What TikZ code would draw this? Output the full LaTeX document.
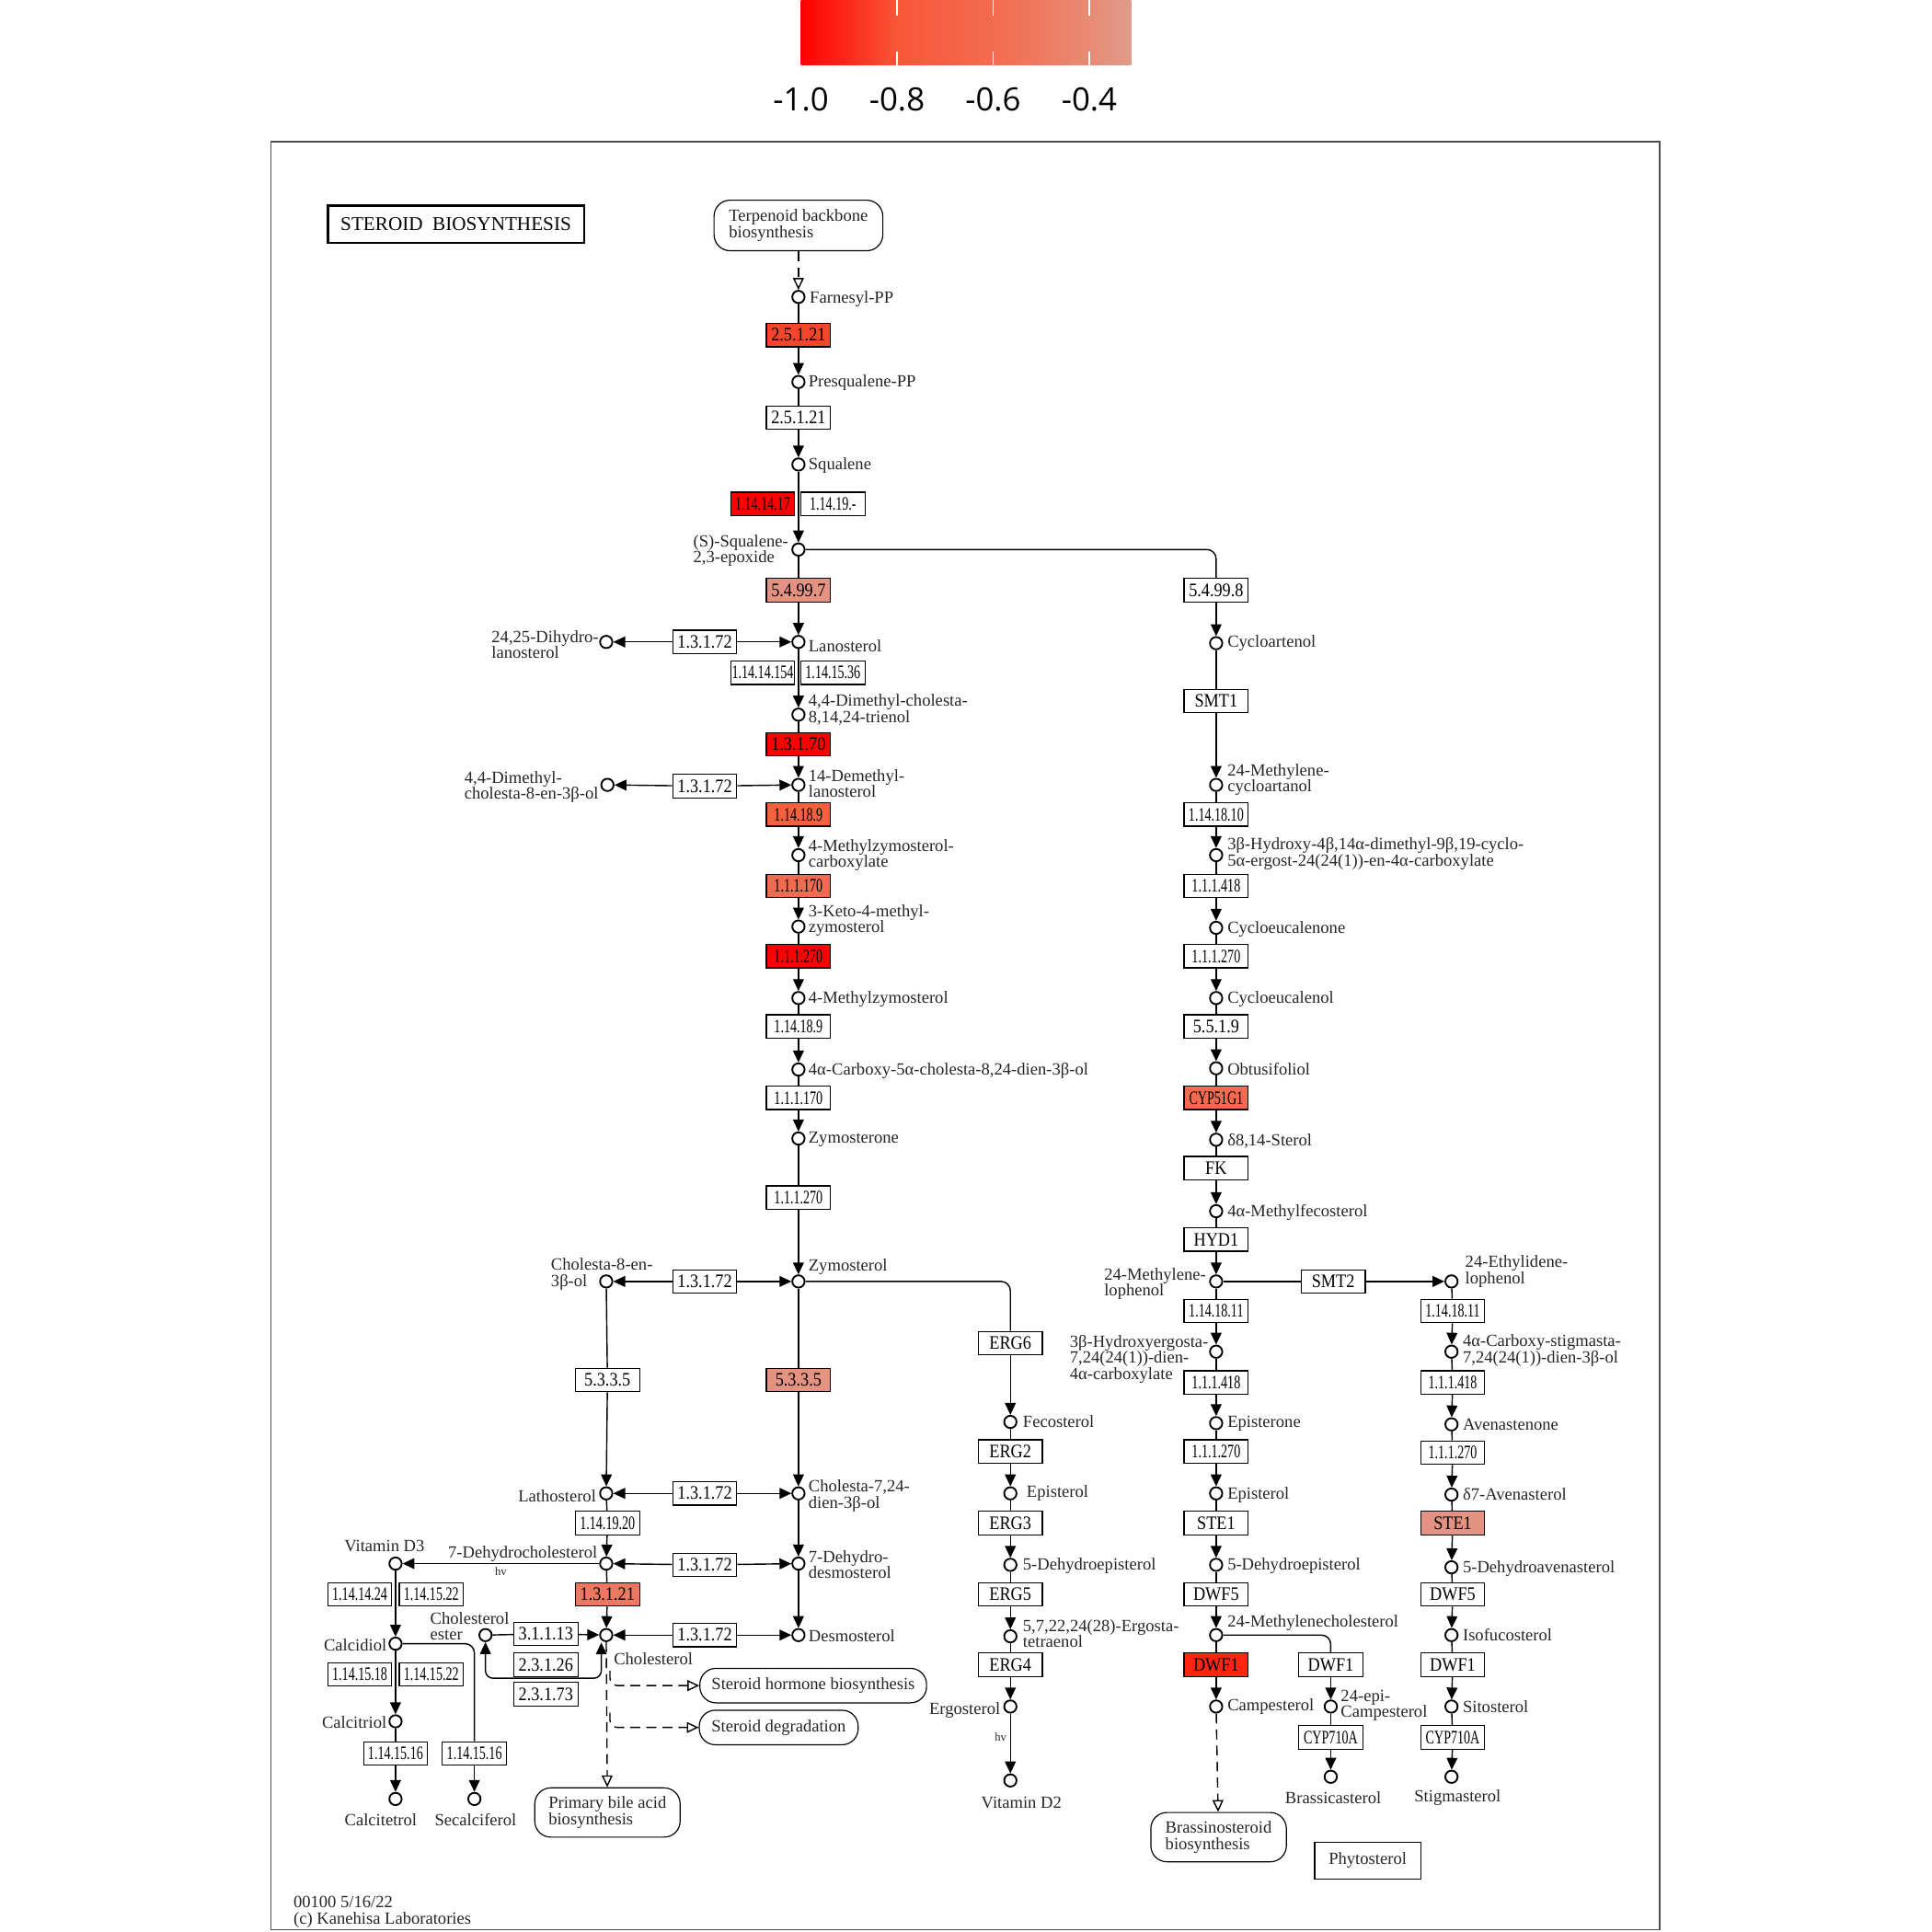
\documentclass[tikz,border=0pt]{standalone}
\usepackage{fontspec}
\setmainfont{Liberation Serif}
\newfontfamily\keyfam{Open Sans}
\newfontfamily\ecfam[FakeStretch=0.88]{Liberation Serif}
\newfontfamily\ecnarrowfam[FakeStretch=0.68]{Liberation Serif}
\usetikzlibrary{arrows.meta,positioning,calc}

\definecolor{keggink}{HTML}{262626}
\definecolor{keyA}{HTML}{FF0000}
\definecolor{keyB}{HTML}{F95638}
\definecolor{keyC}{HTML}{F26C4F}
\definecolor{keyD}{HTML}{E98A74}
\definecolor{keyE}{HTML}{DF9C8A}
\definecolor{fcA}{HTML}{FF0000}
\definecolor{fcB}{HTML}{FF2510}
\definecolor{fcC}{HTML}{F5452B}
\definecolor{fcD}{HTML}{F5603F}
\definecolor{fcE}{HTML}{F16B50}
\definecolor{fcF}{HTML}{EB7861}
\definecolor{fcG}{HTML}{E49282}

\pgfdeclarehorizontalshading{keybar}{100bp}{color(0bp)=(keyA); color(25bp)=(keyA); color(39.55bp)=(keyB); color(54.1bp)=(keyC); color(68.66bp)=(keyD); color(75bp)=(keyE); color(100bp)=(keyE)}

\newcommand\lblfont{\fontsize{7.9pt}{7.4pt}\selectfont}
\newcommand\ecfont{\ecfam\fontsize{8.8pt}{8.8pt}\selectfont}
\newcommand\ecnarrow{\ecnarrowfam\fontsize{8.8pt}{8.8pt}\selectfont}
\newcommand\keyfont{\keyfam\fontsize{14.8pt}{16pt}\selectfont}
\newcommand\hvfont{\fontsize{5.4pt}{6pt}\selectfont}

\tikzset{
  cpd/.style={circle, draw=black, line width=0.8pt, fill=white, minimum size=0.2cm, inner sep=0pt},
  lbl/.style={font=\lblfont, text=keggink, inner sep=0.5pt, align=left},
  ec/.style={rectangle, draw=black, line width=0.5pt, fill=white, minimum width=1.04cm, minimum height=0.38cm, inner sep=0pt, font=\ecfont},
  ecn/.style={ec, font=\ecnarrow},
  mapbox/.style={rectangle, rounded corners=0.26cm, draw=black, line width=0.5pt, fill=white, inner sep=0pt, align=left, font=\lblfont, text=keggink},
  plainbox/.style={rectangle, draw=black, line width=0.5pt, inner sep=0pt, font=\lblfont, text=keggink},
  titlebox/.style={rectangle, draw=black, line width=1.1pt, minimum width=4.16cm, minimum height=0.6cm, inner sep=0pt, font=\fontsize{9pt}{10pt}\selectfont},
  keylbl/.style={font=\keyfont, text=black, inner sep=0pt},
  hvlbl/.style={font=\hvfont, text=keggink, inner sep=1.5pt},
  link/.style={line width=0.6pt},
  flow/.style={link, -{Triangle[length=5.5pt,width=5pt]}},
  dflow/.style={link, dash pattern=on 0.16cm off 0.1cm, -{Triangle[open,length=5.5pt,width=5pt]}},
}

\begin{document}
\begin{tikzpicture}[x=0.02cm, y=-0.02cm]
  \useasboundingbox (0,0) rectangle (1568,1568);

  % colour key
  \shade[shading=keybar] (650,0) rectangle (918,53);
  \foreach \t in {728,806,884}
    \draw[white, line width=0.6pt] (\t,0) -- (\t,13) (\t,42) -- (\t,53);
  \foreach \v/\t in {-1.0/650,-0.8/728,-0.6/806,-0.4/884}
    \node[keylbl] (key\t) at (\t,81) {\v};

  % frame
  \draw[line width=0.6pt, black!70] (220,115) rectangle (1347,1566);

  \node[titlebox] (title) at (370,182) {STEROID\ \ BIOSYNTHESIS};
  \node[mapbox, minimum width=2.74cm, minimum height=0.82cm] (terp) at (648,183) {Terpenoid backbone\\biosynthesis};

  % main column
  \node[cpd] (fpp) at (648,241) {};
  \node[lbl, anchor=west] (tfpp) at (656,243) {Farnesyl-PP};
  \node[ec, fill=fcC] (e1) at (648,272) {2.5.1.21};
  \node[cpd] (psq) at (648,310) {};
  \node[lbl, anchor=west] (tpsq) at (655,311) {Presqualene-PP};
  \node[ec] (e2) at (648,339) {2.5.1.21};
  \node[cpd] (sql) at (648,377) {};
  \node[lbl, anchor=west] (tsql) at (655,378) {Squalene};
  \node[ecn, fill=fcA] (e3a) at (619,409) {1.14.14.17};
  \node[ecn] (e3b) at (676,409) {1.14.19.-};
  \node[cpd] (epx) at (648,446) {};
  \node[lbl, anchor=east] (tepx) at (641,447) {(S)-Squalene-\\2,3-epoxide};
  \node[ec, fill=fcG] (e4) at (648,479) {5.4.99.7};
  \node[cpd] (lan) at (648,521) {};
  \node[lbl, anchor=west] (tlan) at (655,524) {Lanosterol};
  \node[ec] (e5) at (572,521) {1.3.1.72};
  \node[cpd] (dhl) at (492,521) {};
  \node[lbl, anchor=east] (tdhl) at (487,523) {24,25-Dihydro-\\lanosterol};
  \node[ecn] (e6a) at (619,546) {1.14.14.154};
  \node[ecn] (e6b) at (676,546) {1.14.15.36};
  \node[cpd] (dmt) at (648,580) {};
  \node[lbl, anchor=west] (tdmt) at (655,576) {4,4-Dimethyl-cholesta-\\8,14,24-trienol};
  \node[ec, fill=fcA] (e7) at (648,604) {1.3.1.70};
  \node[cpd] (dml) at (648,637) {};
  \node[lbl, anchor=west] (tdml) at (655,636) {14-Demethyl-\\lanosterol};
  \node[ec] (e8) at (572,638) {1.3.1.72};
  \node[cpd] (dco) at (493,637) {};
  \node[lbl, anchor=east] (tdco) at (487,639) {4,4-Dimethyl-\\cholesta-8-en-3β-ol};
  \node[ecn, fill=fcD] (e9) at (648,661) {1.14.18.9};
  \node[cpd] (mzc) at (648,694) {};
  \node[lbl, anchor=west] (tmzc) at (655,694) {4-Methylzymosterol-\\carboxylate};
  \node[ecn, fill=fcE] (e10) at (648,719) {1.1.1.170};
  \node[cpd] (kmz) at (648,752) {};
  \node[lbl, anchor=west] (tkmz) at (655,747) {3-Keto-4-methyl-\\zymosterol};
  \node[ecn, fill=fcA] (e11) at (648,776) {1.1.1.270};
  \node[cpd] (mzy) at (648,810) {};
  \node[lbl, anchor=west] (tmzy) at (655,811) {4-Methylzymosterol};
  \node[ecn] (e12) at (648,833) {1.14.18.9};
  \node[cpd] (cxc) at (648,868) {};
  \node[lbl, anchor=west] (tcxc) at (655,869) {4α-Carboxy-5α-cholesta-8,24-dien-3β-ol};
  \node[ecn] (e13) at (648,891) {1.1.1.170};
  \node[cpd] (zyn) at (648,924) {};
  \node[lbl, anchor=west] (tzyn) at (655,925) {Zymosterone};
  \node[ecn] (e14) at (648,972) {1.1.1.270};
  \node[cpd] (zym) at (648,1040) {};
  \node[lbl, anchor=west] (tzym) at (655,1028) {Zymosterol};
  \node[ec] (e15) at (572,1040) {1.3.1.72};
  \node[cpd] (c8e) at (492,1040) {};
  \node[lbl, anchor=west] (tc8e) at (446,1034) {Cholesta-8-en-\\3β-ol};
  \node[ec] (e16) at (493,1120) {5.3.3.5};
  \node[ec, fill=fcG] (e17) at (648,1120) {5.3.3.5};
  \node[cpd] (c724) at (648,1212) {};
  \node[lbl, anchor=west] (tc724) at (655,1214) {Cholesta-7,24-\\dien-3β-ol};
  \node[ec] (e18) at (572,1212) {1.3.1.72};
  \node[cpd] (lat) at (492,1212) {};
  \node[lbl, anchor=east] (tlat) at (485,1214) {Lathosterol};
  \node[ecn] (e19) at (493,1236) {1.14.19.20};
  \node[cpd] (dhc) at (492,1269) {};
  \node[lbl, anchor=east] (tdhc) at (486,1261) {7-Dehydrocholesterol};
  \node[ec] (e20) at (572,1270) {1.3.1.72};
  \node[cpd] (ddes) at (648,1269) {};
  \node[lbl, anchor=west] (tddes) at (655,1270) {7-Dehydro-\\desmosterol};
  \node[ec, fill=fcF] (e21) at (493,1294) {1.3.1.21};
  \node[cpd] (chl) at (492,1327) {};
  \node[lbl, anchor=west] (tchl) at (497,1346) {Cholesterol};
  \node[ec] (e22) at (572,1327) {1.3.1.72};
  \node[cpd] (des) at (648,1327) {};
  \node[lbl, anchor=west] (tdes) at (655,1328) {Desmosterol};
  \node[ec] (e23) at (443,1326) {3.1.1.13};
  \node[ec] (e24) at (443,1351) {2.3.1.26};
  \node[ec] (e25) at (443,1375) {2.3.1.73};
  \node[cpd] (che) at (394,1327) {};
  \node[lbl, anchor=west] (tche) at (348,1320) {Cholesterol\\ester};
  \coordinate (chlin) at (488,1333);

  % vitamin D branch
  \node[cpd] (vd3) at (321,1269) {};
  \node[lbl] (tvd3) at (312,1255) {Vitamin D3};
  \node[ecn] (e26a) at (292,1294) {1.14.14.24};
  \node[ecn] (e26b) at (350,1294) {1.14.15.22};
  \node[cpd] (cdl) at (321,1334) {};
  \node[lbl, anchor=east] (tcdl) at (315,1335) {Calcidiol};
  \node[ecn] (e27a) at (292,1359) {1.14.15.18};
  \node[ecn] (e27b) at (350,1359) {1.14.15.22};
  \node[cpd] (ctr) at (321,1397) {};
  \node[lbl, anchor=east] (tctr) at (315,1398) {Calcitriol};
  \node[ecn] (e28) at (321,1423) {1.14.15.16};
  \node[ecn] (e29) at (385,1423) {1.14.15.16};
  \node[cpd] (ctt) at (321,1460) {};
  \node[lbl] (tctt) at (309,1477) {Calcitetrol};
  \node[cpd] (scf) at (385,1460) {};
  \node[lbl] (tscf) at (386,1477) {Secalciferol};

  % linked maps
  \node[mapbox, minimum width=2.36cm, minimum height=0.8cm] (pba) at (493,1471) {Primary bile acid\\biosynthesis};
  \node[mapbox, minimum width=3.68cm, minimum height=0.56cm] (shb) at (660,1368) {Steroid hormone biosynthesis};
  \node[mapbox, minimum width=2.58cm, minimum height=0.56cm] (sdg) at (632,1402) {Steroid degradation};
  \coordinate (hk1) at (495,1356);
  \coordinate (hk2) at (495,1390);

  % ergosterol column
  \node[ec] (erg6) at (820,1090) {ERG6};
  \node[cpd] (fec) at (820,1154) {};
  \node[lbl, anchor=west] (tfec) at (829,1154) {Fecosterol};
  \node[ec] (erg2) at (820,1178) {ERG2};
  \node[cpd] (eps1) at (820,1212) {};
  \node[lbl, anchor=west] (teps1) at (832,1212) {Episterol};
  \node[ec] (erg3) at (820,1236) {ERG3};
  \node[cpd] (dep1) at (820,1270) {};
  \node[lbl, anchor=west] (tdep1) at (829,1271) {5-Dehydroepisterol};
  \node[ec] (erg5) at (820,1294) {ERG5};
  \node[cpd] (ett) at (820,1328) {};
  \node[lbl, anchor=west] (tett) at (829,1326) {5,7,22,24(28)-Ergosta-\\tetraenol};
  \node[ec] (erg4) at (820,1351) {ERG4};
  \node[cpd] (ergs) at (820,1385) {};
  \node[lbl, anchor=east] (tergs) at (813,1388) {Ergosterol};
  \node[cpd] (vd2) at (820,1445) {};
  \node[lbl] (tvd2) at (829,1463) {Vitamin D2};

  % plant column
  \node[ec] (e548) at (987,479) {5.4.99.8};
  \node[cpd] (cya) at (987,522) {};
  \node[lbl, anchor=west] (tcya) at (995,522) {Cycloartenol};
  \node[ec] (smt1) at (987,569) {SMT1};
  \node[cpd] (mca) at (987,637) {};
  \node[lbl, anchor=west] (tmca) at (995,633) {24-Methylene-\\cycloartanol};
  \node[ecn] (r1810) at (987,661) {1.14.18.10};
  \node[cpd] (hdc) at (987,694) {};
  \node[lbl, anchor=west] (thdc) at (995,693) {3β-Hydroxy-4β,14α-dimethyl-9β,19-cyclo-\\5α-ergost-24(24(1))-en-4α-carboxylate};
  \node[ecn] (r418) at (987,719) {1.1.1.418};
  \node[cpd] (cen) at (987,753) {};
  \node[lbl, anchor=west] (tcen) at (995,754) {Cycloeucalenone};
  \node[ecn] (r270) at (987,776) {1.1.1.270};
  \node[cpd] (cel) at (987,810) {};
  \node[lbl, anchor=west] (tcel) at (995,811) {Cycloeucalenol};
  \node[ec] (r5519) at (987,833) {5.5.1.9};
  \node[cpd] (obt) at (987,867) {};
  \node[lbl, anchor=west] (tobt) at (995,868) {Obtusifoliol};
  \node[ecn, fill=fcE] (cyp) at (987,891) {CYP51G1};
  \node[cpd] (s814) at (987,925) {};
  \node[lbl, anchor=west] (ts814) at (995,926) {δ8,14-Sterol};
  \node[ec] (fk) at (987,948) {FK};
  \node[cpd] (mfe) at (987,983) {};
  \node[lbl, anchor=west] (tmfe) at (995,984) {4α-Methylfecosterol};
  \node[ec] (hyd1) at (987,1006) {HYD1};
  \node[cpd] (mlo) at (987,1040) {};
  \node[lbl, anchor=west] (tmlo) at (895,1042) {24-Methylene-\\lophenol};
  \node[ec] (smt2) at (1082,1040) {SMT2};
  \node[ecn] (r1811) at (987,1064) {1.14.18.11};
  \node[cpd] (hed) at (987,1097) {};
  \node[lbl, anchor=west] (thed) at (867,1103) {3β-Hydroxyergosta-\\7,24(24(1))-dien-\\4α-carboxylate};
  \node[ecn] (r418b) at (987,1122) {1.1.1.418};
  \node[cpd] (epn) at (987,1155) {};
  \node[lbl, anchor=west] (tepn) at (995,1155) {Episterone};
  \node[ecn] (r270b) at (987,1178) {1.1.1.270};
  \node[cpd] (eps2) at (987,1212) {};
  \node[lbl, anchor=west] (teps2) at (995,1213) {Episterol};
  \node[ec] (ste) at (987,1236) {STE1};
  \node[cpd] (dep2) at (987,1270) {};
  \node[lbl, anchor=west] (tdep2) at (995,1271) {5-Dehydroepisterol};
  \node[ec] (dwf5) at (987,1294) {DWF5};
  \node[cpd] (mch) at (987,1327) {};
  \node[lbl, anchor=west] (tmch) at (995,1317) {24-Methylenecholesterol};
  \node[ec, fill=fcB] (dwf1) at (987,1351) {DWF1};
  \node[cpd] (cam) at (987,1385) {};
  \node[lbl, anchor=west] (tcam) at (995,1385) {Campesterol};
  \node[ec] (dwf1b) at (1080,1351) {DWF1};
  \node[cpd] (ecam) at (1080,1385) {};
  \node[lbl, anchor=west] (tecam) at (1087,1384) {24-epi-\\Campesterol};
  \node[ecn] (cyp710) at (1080,1410) {CYP710A};
  \node[cpd] (bra) at (1080,1442) {};
  \node[lbl] (tbra) at (1082,1459) {Brassicasterol};
  \node[mapbox, minimum width=2.2cm, minimum height=0.8cm] (brs) at (989,1491) {Brassinosteroid\\biosynthesis};

  % sitosterol column
  \node[cpd] (elo) at (1178,1040) {};
  \node[lbl, anchor=west] (telo) at (1188,1032) {24-Ethylidene-\\lophenol};
  \node[ecn] (f1) at (1179,1064) {1.14.18.11};
  \node[cpd] (cst) at (1178,1097) {};
  \node[lbl, anchor=west] (tcst) at (1186,1096) {4α-Carboxy-stigmasta-\\7,24(24(1))-dien-3β-ol};
  \node[ecn] (f2) at (1179,1122) {1.1.1.418};
  \node[cpd] (ave) at (1178,1156) {};
  \node[lbl, anchor=west] (tave) at (1186,1156) {Avenastenone};
  \node[ecn] (f3) at (1179,1179) {1.1.1.270};
  \node[cpd] (d7a) at (1178,1213) {};
  \node[lbl, anchor=west] (td7a) at (1186,1213) {δ7-Avenasterol};
  \node[ec, fill=fcG] (f4) at (1179,1236) {STE1};
  \node[cpd] (dav) at (1178,1272) {};
  \node[lbl, anchor=west] (tdav) at (1186,1273) {5-Dehydroavenasterol};
  \node[ec] (f5) at (1179,1294) {DWF5};
  \node[cpd] (iso) at (1178,1327) {};
  \node[lbl, anchor=west] (tiso) at (1186,1327) {Isofucosterol};
  \node[ec] (f6) at (1179,1351) {DWF1};
  \node[cpd] (sit) at (1178,1385) {};
  \node[lbl, anchor=west] (tsit) at (1186,1385) {Sitosterol};
  \node[ecn] (f7) at (1179,1410) {CYP710A};
  \node[cpd] (sti) at (1178,1442) {};
  \node[lbl] (tsti) at (1183,1459) {Stigmasterol};

  \node[plainbox, minimum width=1.72cm, minimum height=0.6cm] (phyto) at (1110,1510) {Phytosterol};
  \node[lbl, anchor=north west] (foot) at (237,1538) {00100 5/16/22\\(c) Kanehisa Laboratories};

  % connectors: main column
  \draw[dflow] (terp) -- (fpp);
  \draw[link] (fpp) -- (e1);
  \draw[flow] (e1) -- (psq);
  \draw[link] (psq) -- (e2);
  \draw[flow] (e2) -- (sql);
  \draw[flow] (sql) -- (epx);
  \draw[link] (epx) -- (e4);
  \draw[flow] (e4) -- (lan);
  \draw[link, rounded corners=0.15cm] (epx) -| (e548);
  \draw[flow] (e5) -- (dhl);
  \draw[flow] (e5) -- (lan);
  \draw[flow] (lan) -- (dmt);
  \draw[link] (dmt) -- (e7);
  \draw[flow] (e7) -- (dml);
  \draw[flow] (e8) -- (dco);
  \draw[flow] (e8) -- (dml);
  \draw[link] (dml) -- (e9);
  \draw[flow] (e9) -- (mzc);
  \draw[link] (mzc) -- (e10);
  \draw[flow] (e10) -- (kmz);
  \draw[link] (kmz) -- (e11);
  \draw[flow] (e11) -- (mzy);
  \draw[link] (mzy) -- (e12);
  \draw[flow] (e12) -- (cxc);
  \draw[link] (cxc) -- (e13);
  \draw[flow] (e13) -- (zyn);
  \draw[link] (zyn) -- (e14);
  \draw[flow] (e14) -- (zym);
  \draw[flow] (e15) -- (c8e);
  \draw[flow] (e15) -- (zym);
  \draw[link, rounded corners=0.15cm] (zym) -| (erg6);
  \draw[link] (zym) -- (e17);
  \draw[flow] (e17) -- (c724);
  \draw[link] (c8e) -- (e16);
  \draw[flow] (e16) -- (lat);
  \draw[flow] (e18) -- (lat);
  \draw[flow] (e18) -- (c724);
  \draw[link] (lat) -- (e19);
  \draw[flow] (e19) -- (dhc);
  \draw[flow] (c724) -- (ddes);
  \draw[flow] (e20) -- (dhc);
  \draw[flow] (e20) -- (ddes);
  \draw[flow] (dhc) -- node[hvlbl, below] (hv1) {hv} (vd3);
  \draw[link] (dhc) -- (e21);
  \draw[flow] (e21) -- (chl);
  \draw[flow] (ddes) -- (des);
  \draw[flow] (e22) -- (chl);
  \draw[flow] (e22) -- (des);
  \draw[link] (che) -- (e23);
  \draw[flow] (e23) -- (chl);
  \draw[link, {Triangle[length=5.5pt,width=5pt]}-{Triangle[length=5.5pt,width=5pt]}, rounded corners=0.12cm] (che) -- (394,1362) -- (488,1362) -- (chlin);
  \draw[dflow] (chl) -- (pba);
  \draw[dflow, rounded corners=0.12cm] (hk1) |- (shb);
  \draw[dflow, rounded corners=0.12cm] (hk2) |- (sdg);

  % vitamin D
  \draw[flow] (vd3) -- (cdl);
  \draw[flow] (cdl) -- (ctr);
  \draw[link] (ctr) -- (e28);
  \draw[flow] (e28) -- (ctt);
  \draw[link, rounded corners=0.15cm] (cdl) -| (e29);
  \draw[flow] (e29) -- (scf);

  % ergosterol
  \draw[flow] (erg6) -- (fec);
  \draw[link] (fec) -- (erg2);
  \draw[flow] (erg2) -- (eps1);
  \draw[link] (eps1) -- (erg3);
  \draw[flow] (erg3) -- (dep1);
  \draw[link] (dep1) -- (erg5);
  \draw[flow] (erg5) -- (ett);
  \draw[link] (ett) -- (erg4);
  \draw[flow] (erg4) -- (ergs);
  \draw[flow] (ergs) -- node[hvlbl, left, pos=0.4] (hv2) {hv} (vd2);

  % plant sterols
  \draw[flow] (e548) -- (cya);
  \draw[link] (cya) -- (smt1);
  \draw[flow] (smt1) -- (mca);
  \draw[link] (mca) -- (r1810);
  \draw[flow] (r1810) -- (hdc);
  \draw[link] (hdc) -- (r418);
  \draw[flow] (r418) -- (cen);
  \draw[link] (cen) -- (r270);
  \draw[flow] (r270) -- (cel);
  \draw[link] (cel) -- (r5519);
  \draw[flow] (r5519) -- (obt);
  \draw[link] (obt) -- (cyp);
  \draw[flow] (cyp) -- (s814);
  \draw[link] (s814) -- (fk);
  \draw[flow] (fk) -- (mfe);
  \draw[link] (mfe) -- (hyd1);
  \draw[flow] (hyd1) -- (mlo);
  \draw[link] (mlo) -- (smt2);
  \draw[flow] (smt2) -- (elo);
  \draw[link] (mlo) -- (r1811);
  \draw[flow] (r1811) -- (hed);
  \draw[link] (hed) -- (r418b);
  \draw[flow] (r418b) -- (epn);
  \draw[link] (epn) -- (r270b);
  \draw[flow] (r270b) -- (eps2);
  \draw[link] (eps2) -- (ste);
  \draw[flow] (ste) -- (dep2);
  \draw[link] (dep2) -- (dwf5);
  \draw[flow] (dwf5) -- (mch);
  \draw[link] (mch) -- (dwf1);
  \draw[flow] (dwf1) -- (cam);
  \draw[link, rounded corners=0.15cm] (mch) -| (dwf1b);
  \draw[flow] (dwf1b) -- (ecam);
  \draw[link] (ecam) -- (cyp710);
  \draw[flow] (cyp710) -- (bra);
  \draw[dflow] (cam) -- (brs);

  \draw[link] (elo) -- (f1);
  \draw[flow] (f1) -- (cst);
  \draw[link] (cst) -- (f2);
  \draw[flow] (f2) -- (ave);
  \draw[link] (ave) -- (f3);
  \draw[flow] (f3) -- (d7a);
  \draw[link] (d7a) -- (f4);
  \draw[flow] (f4) -- (dav);
  \draw[link] (dav) -- (f5);
  \draw[flow] (f5) -- (iso);
  \draw[link] (iso) -- (f6);
  \draw[flow] (f6) -- (sit);
  \draw[link] (sit) -- (f7);
  \draw[flow] (f7) -- (sti);
\end{tikzpicture}
\end{document}
